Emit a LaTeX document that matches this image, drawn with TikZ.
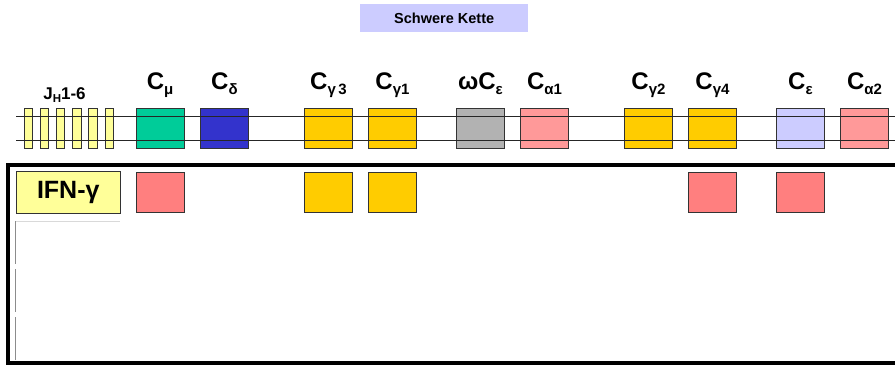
\documentclass[tikz,border=0pt]{standalone}
\usepackage{fontspec}
\setmainfont{Liberation Sans}
\definecolor{jyellow}{HTML}{FFFF99}
\definecolor{mugreen}{HTML}{00CC99}
\definecolor{deltablue}{HTML}{3333CC}
\definecolor{gammagold}{HTML}{FFCC00}
\definecolor{pseudogray}{HTML}{B2B2B2}
\definecolor{alphapink}{HTML}{FF9999}
\definecolor{epslav}{HTML}{CCCCFF}
\definecolor{hitred}{HTML}{FF7F7F}
\definecolor{edge}{HTML}{333333}
\newcommand\lsub[1]{\raisebox{-0.22em}{\fontsize{15}{15}\selectfont #1}}
\begin{document}
\begin{tikzpicture}[x=1pt,y=-1pt,
  exon/.style={draw=edge, line width=0.8pt, minimum width=8.5pt, minimum height=40pt,
    inner sep=0pt, fill=jyellow, anchor=north west},
  gene/.style={draw=edge, line width=0.9pt, minimum width=48pt, minimum height=40pt,
    inner sep=0pt, anchor=north west},
  lbl/.style={font=\fontsize{24}{24}\selectfont\bfseries, anchor=base, inner sep=0pt},
]
\useasboundingbox (0,0) rectangle (895,365);

% title
\node[fill=epslav, minimum width=168pt, minimum height=28pt, inner sep=0pt,
  anchor=north west, font=\fontsize{14.5}{14.5}\selectfont\bfseries] (title) at (360,4) {Schwere Kette};

% J_H segments
\foreach \i/\x in {1/23.5,2/39.7,3/55.9,4/72.1,5/88.3,6/104.5}
  \node[exon] (j\i) at (\x,108) {};

% constant-region genes
\node[gene, fill=mugreen]    (cmu)   at (135.7,108) {};
\node[gene, fill=deltablue]  (cdel)  at (200,108) {};
\node[gene, fill=gammagold]  (cgiii) at (304,108) {};
\node[gene, fill=gammagold]  (cgi)   at (368,108) {};
\node[gene, fill=pseudogray] (weps)  at (456,108) {};
\node[gene, fill=alphapink]  (cai)   at (520,108) {};
\node[gene, fill=gammagold]  (cgii)  at (624,108) {};
\node[gene, fill=gammagold]  (cgiv)  at (688,108) {};
\node[gene, fill=epslav]     (ceps)  at (776,108) {};
\node[gene, fill=alphapink]  (caii)  at (840,108) {};

% DNA strands
\coordinate (sa) at (16,116); \coordinate (ea) at (895,116);
\coordinate (sb) at (16,140); \coordinate (eb) at (895,140);
\draw[line width=0.9pt, black!85] (sa) -- (ea);
\draw[line width=0.9pt, black!85] (sb) -- (eb);

% labels
\node[lbl, font=\fontsize{17}{17}\selectfont\bfseries] (ljh) at (64.5,99) {J\lsub{\fontsize{11.5}{11.5}\selectfont H}1-6};
\node[lbl] (lmu)   at (cmu.north   |- 0,89) {C\lsub{μ}};
\node[lbl] (ldel)  at (cdel.north  |- 0,89) {C\lsub{δ}};
\node[lbl] (lgiii) at (cgiii.north |- 0,89) {C\lsub{γ\,3}};
\node[lbl] (lgi)   at (cgi.north   |- 0,89) {C\lsub{γ1}};
\node[lbl] (lweps) at (weps.north  |- 0,89) {ωC\lsub{ε}};
\node[lbl] (lai)   at (cai.north   |- 0,89) {C\lsub{α1}};
\node[lbl] (lgii)  at (cgii.north  |- 0,89) {C\lsub{γ2}};
\node[lbl] (lgiv)  at (cgiv.north  |- 0,89) {C\lsub{γ4}};
\node[lbl] (leps)  at (ceps.north  |- 0,89) {C\lsub{ε}};
\node[lbl] (laii)  at (caii.north  |- 0,89) {C\lsub{α2}};

% lower panel frame
\coordinate (fr1) at (905,363); \coordinate (fr2) at (8,363);
\coordinate (fr3) at (8,165);   \coordinate (fr4) at (905,165);
\draw[line width=3.3pt] (fr1) -- (fr2) -- (fr3) -- (fr4);

% IFN-gamma row
\node[draw=edge, line width=0.8pt, fill=jyellow, minimum width=104.3pt, minimum height=42.6pt,
  inner sep=0pt, anchor=north west, font=\fontsize{25}{25}\selectfont\bfseries] (ifn) at (15.7,170.7) {IFN-γ};
\node[gene, fill=hitred]    (rmu)   at (135.7,172) {};
\node[gene, fill=gammagold] (rgiii) at (304,172) {};
\node[gene, fill=gammagold] (rgi)   at (368,172) {};
\node[gene, fill=hitred]    (rgiv)  at (688,172) {};
\node[gene, fill=hitred]    (reps)  at (776,172) {};

% faint table rules below
\draw[black!15, line width=0.6pt] (15.7,221) -- (120,221);
\draw[black!45, line width=0.7pt] (15.7,221) -- (15.7,264);
\draw[black!45, line width=0.7pt] (15.7,269) -- (15.7,312);
\draw[black!45, line width=0.7pt] (15.7,317) -- (15.7,360);
\end{tikzpicture}
\end{document}
